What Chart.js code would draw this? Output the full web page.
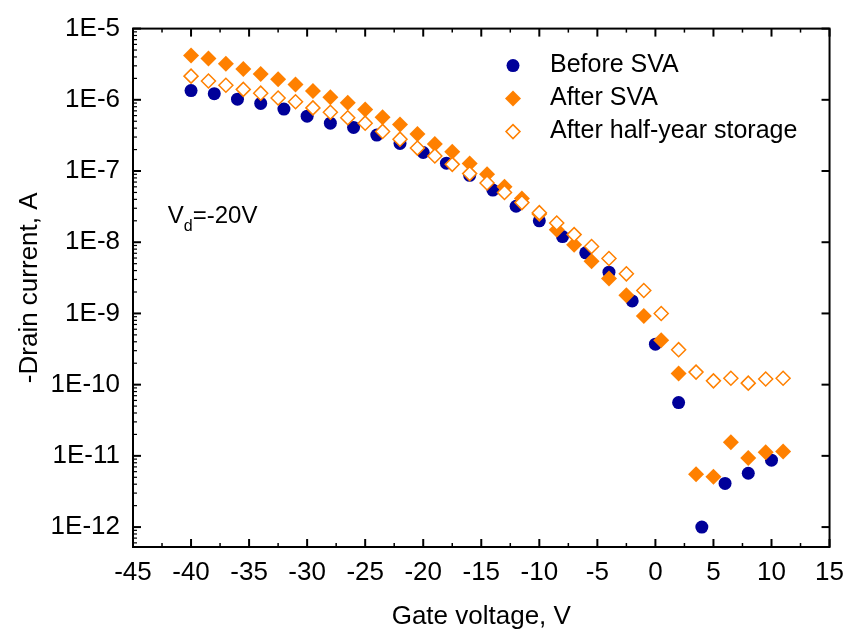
<!DOCTYPE html>
<html>
<head>
<meta charset="utf-8">
<script src="https://cdn.jsdelivr.net/npm/chart.js@4.4.1/dist/chart.umd.min.js"></script>
<style>
  html, body { margin: 0; padding: 0; background: #fff; }
  #chart { display: block; }
</style>
</head>
<body>
<canvas id="chart" width="854" height="633"></canvas>
<script>
// gate voltage (V) for the "Before SVA" sweep, 2 V step
const gateBefore = [-40, -38, -36, -34, -32, -30, -28, -26, -24, -22, -20, -18, -16,
  -14, -12, -10, -8, -6, -4, -2, 0, 2, 4, 6, 8, 10];
const currentBefore = [1.35e-6, 1.22e-6, 1.02e-6, 8.9e-7, 7.4e-7, 5.9e-7, 4.7e-7, 4.1e-7, 3.2e-7, 2.44e-7,
  1.82e-7, 1.29e-7, 8.7e-8, 5.4e-8, 3.2e-8, 2.0e-8, 1.2e-8, 7.1e-9, 3.8e-9, 1.5e-9,
  3.7e-10, 5.6e-11, 1.0e-12, 4.1e-12, 5.7e-12, 8.7e-12];

// gate voltage (V) for the two later sweeps, 1.5 V step
const gateAfter = [-40, -38.5, -37, -35.5, -34, -32.5, -31, -29.5, -28, -26.5, -25, -23.5, -22,
  -20.5, -19, -17.5, -16, -14.5, -13, -11.5, -10, -8.5, -7, -5.5, -4, -2.5, -1,
  0.5, 2, 3.5, 5, 6.5, 8, 9.5, 11];
const currentAfter = [4.2e-6, 3.8e-6, 3.2e-6, 2.7e-6, 2.3e-6, 1.95e-6, 1.64e-6, 1.33e-6, 1.09e-6, 9.1e-7,
  7.3e-7, 5.7e-7, 4.5e-7, 3.3e-7, 2.4e-7, 1.87e-7, 1.28e-7, 9.0e-8, 6.0e-8, 4.1e-8,
  2.5e-8, 1.5e-8, 9.2e-9, 5.4e-9, 3.1e-9, 1.8e-9, 9.2e-10, 4.2e-10, 1.43e-10, 5.5e-12,
  5.1e-12, 1.55e-11, 9.3e-12, 1.12e-11, 1.15e-11];
const currentStorage = [2.15e-6, 1.84e-6, 1.6e-6, 1.4e-6, 1.24e-6, 1.06e-6, 9.4e-7, 7.7e-7, 6.7e-7, 5.6e-7,
  4.7e-7, 3.6e-7, 2.8e-7, 2.1e-7, 1.63e-7, 1.24e-7, 9.2e-8, 6.8e-8, 5.0e-8, 3.6e-8,
  2.6e-8, 1.86e-8, 1.28e-8, 8.7e-9, 5.9e-9, 3.6e-9, 2.1e-9, 1.0e-9, 3.1e-10, 1.5e-10,
  1.13e-10, 1.23e-10, 1.05e-10, 1.2e-10, 1.23e-10];

const seriesNames = ['Before SVA', 'After SVA', 'After half-year storage'];
const yTickValues = [1e-12, 1e-11, 1e-10, 1e-9, 1e-8, 1e-7, 1e-6, 1e-5];
const yTickLabels = ['1E-12', '1E-11', '1E-10', '1E-9', '1E-8', '1E-7', '1E-6', '1E-5'];

const NAVY = '#000099';
const ORANGE = '#ff8000';
const FONT = 'Liberation Sans, Arial, Helvetica, sans-serif';

const toPoints = (xs, ys) => xs.map((x, i) => ({ x: x, y: ys[i] }));

// inward ticks + box frame, drawn from the scales
const frameTicks = {
  id: 'frameTicks',
  afterDatasetsDraw(chart) {
    const { ctx, chartArea: a, scales } = chart;
    const xs = scales.x, ys = scales.y;
    const major = 8, minor = 4;
    ctx.save();
    ctx.strokeStyle = '#000';
    ctx.lineCap = 'butt';

    const xMajor = xs.ticks.map(t => t.value);
    const xMinor = [];
    for (let i = 0; i < xMajor.length - 1; i++) xMinor.push((xMajor[i] + xMajor[i + 1]) / 2);

    const yMajor = ys.ticks.map(t => t.value);
    const yMinor = [];
    for (let e = -13; e <= -5; e++) {
      for (let k = 2; k <= 9; k++) {
        const v = k * Math.pow(10, e);
        if (v > ys.min && v < ys.max) yMinor.push(v);
      }
    }

    const line = (x1, y1, x2, y2, w) => {
      ctx.lineWidth = w;
      ctx.beginPath();
      ctx.moveTo(x1, y1);
      ctx.lineTo(x2, y2);
      ctx.stroke();
    };

    xMajor.forEach(v => {
      const px = xs.getPixelForValue(v);
      line(px, a.bottom, px, a.bottom - major, 2);
      line(px, a.top, px, a.top + major, 2);
    });
    xMinor.forEach(v => {
      const px = xs.getPixelForValue(v);
      line(px, a.bottom, px, a.bottom - minor, 1.5);
      line(px, a.top, px, a.top + minor, 1.5);
    });
    yMajor.forEach(v => {
      const py = ys.getPixelForValue(v);
      line(a.left, py, a.left + major, py, 2);
      line(a.right, py, a.right - major, py, 2);
    });
    yMinor.forEach(v => {
      const py = ys.getPixelForValue(v);
      line(a.left, py, a.left + minor, py, 1.2);
    });

    ctx.lineWidth = 2;
    ctx.strokeRect(a.left, a.top, a.right - a.left, a.bottom - a.top);
    ctx.restore();
  }
};

// legend inside the plot + the V_d note
const notes = {
  id: 'notes',
  afterDraw(chart) {
    const { ctx, chartArea: a, scales } = chart;
    ctx.save();

    const mx = a.left + 380;
    const tx = a.left + 417;
    const rows = [a.top + 37, a.top + 70, a.top + 103];

    // circle
    ctx.fillStyle = NAVY;
    ctx.beginPath();
    ctx.arc(mx, rows[0], 6.5, 0, Math.PI * 2);
    ctx.fill();
    // filled diamond
    const diamond = (cx, cy, r) => {
      ctx.beginPath();
      ctx.moveTo(cx, cy - r);
      ctx.lineTo(cx + r, cy);
      ctx.lineTo(cx, cy + r);
      ctx.lineTo(cx - r, cy);
      ctx.closePath();
    };
    ctx.fillStyle = ORANGE;
    diamond(mx, rows[1], 8);
    ctx.fill();
    // hollow diamond
    ctx.fillStyle = '#fff';
    ctx.strokeStyle = ORANGE;
    ctx.lineWidth = 1.5;
    diamond(mx, rows[2], 7);
    ctx.fill();
    ctx.stroke();

    ctx.fillStyle = '#000';
    ctx.font = '25px ' + FONT;
    ctx.textAlign = 'left';
    ctx.textBaseline = 'middle';
    seriesNames.forEach((name, i) => ctx.fillText(name, tx, rows[i]));

    // V_d = -20V, anchored in data coordinates
    const vx = scales.x.getPixelForValue(-42);
    const vy = scales.y.getPixelForValue(1.85e-8);
    ctx.textBaseline = 'alphabetic';
    ctx.font = '24px ' + FONT;
    ctx.fillText('V', vx, vy);
    let w = ctx.measureText('V').width;
    ctx.font = '16px ' + FONT;
    ctx.fillText('d', vx + w, vy + 8);
    w += ctx.measureText('d').width;
    ctx.font = '24px ' + FONT;
    ctx.fillText('=-20V', vx + w, vy);

    ctx.restore();
  }
};

const ctx = document.getElementById('chart').getContext('2d');
new Chart(ctx, {
  type: 'scatter',
  data: {
    datasets: [
      {
        label: seriesNames[0],
        data: toPoints(gateBefore, currentBefore),
        pointStyle: 'circle',
        pointRadius: 6.5,
        backgroundColor: NAVY,
        borderColor: NAVY,
        borderWidth: 0,
        order: 2
      },
      {
        label: seriesNames[1],
        data: toPoints(gateAfter, currentAfter),
        pointStyle: 'rectRot',
        pointRadius: 8,
        backgroundColor: ORANGE,
        borderColor: ORANGE,
        borderWidth: 0,
        order: 1
      },
      {
        label: seriesNames[2],
        data: toPoints(gateAfter, currentStorage),
        pointStyle: 'rectRot',
        pointRadius: 7,
        backgroundColor: '#ffffff',
        borderColor: ORANGE,
        borderWidth: 1.5,
        order: 0
      }
    ]
  },
  options: {
    responsive: false,
    animation: false,
    events: [],
    layout: { padding: { top: 25, right: 20, left: 0, bottom: 0 } },
    plugins: {
      legend: { display: false },
      tooltip: { enabled: false }
    },
    scales: {
      x: {
        type: 'linear',
        min: -45,
        max: 15,
        grid: { display: false, drawTicks: false },
        border: { display: false },
        ticks: {
          stepSize: 5,
          color: '#000',
          padding: 10,
          maxRotation: 0,
          font: { family: FONT, size: 26 }
        },
        title: {
          display: true,
          text: 'Gate voltage, V',
          color: '#000',
          padding: { top: 0, bottom: 1 },
          font: { family: FONT, size: 26 }
        },
        afterFit: s => { s.height = 86; }
      },
      y: {
        type: 'logarithmic',
        min: 5.25e-13,
        max: 1e-5,
        grid: { display: false, drawTicks: false },
        border: { display: false },
        afterBuildTicks: s => { s.ticks = yTickValues.map(v => ({ value: v })); },
        ticks: {
          autoSkip: false,
          color: '#000',
          padding: 13,
          font: { family: FONT, size: 26 },
          callback: (v) => yTickLabels[yTickValues.findIndex(t => Math.abs(Math.log10(t) - Math.log10(v)) < 1e-6)]
        },
        title: {
          display: true,
          text: '-Drain current, A',
          color: '#000',
          padding: { top: 14, bottom: 0 },
          font: { family: FONT, size: 26 }
        },
        afterFit: s => { s.width = 133; }
      }
    }
  },
  plugins: [frameTicks, notes]
});
</script>
</body>
</html>
